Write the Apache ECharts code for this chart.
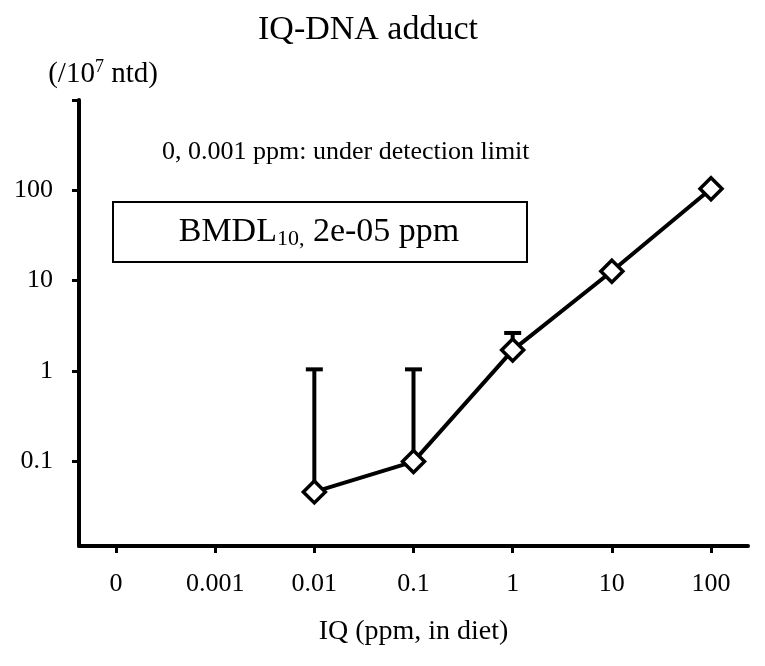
<!DOCTYPE html>
<html>
<head>
<meta charset="utf-8">
<script src="https://cdn.jsdelivr.net/npm/echarts@6/dist/echarts.min.js"></script>
<style>html,body{margin:0;padding:0;background:#fff;}#c{width:765px;height:666px;}</style>
</head>
<body>
<div id="c"></div>
<script>
var categories = ['0', '0.001', '0.01', '0.1', '1', '10', '100'];
var pointIndex = [2, 3, 4, 5, 6];
var adductMean = [0.0457, 0.099, 1.7, 12.7, 104];
var errorIndex = [2, 3, 4];
var errorUpper = [1.04, 1.04, 2.63];
var yTickLabels = [0.1, 1, 10, 100];
var yTickMarks = [0.1, 1, 10, 100, 1000];

var FONT = '"Liberation Serif", "Times New Roman", serif';
var lineData = pointIndex.map(function (x, i) { return [x, adductMean[i]]; });
var errData = errorIndex.map(function (x, i) {
  return [x, adductMean[pointIndex.indexOf(x)], errorUpper[i]];
});

var chart = echarts.init(document.getElementById('c'), null, { renderer: 'canvas' });
chart.setOption({
  backgroundColor: '#fff',
  animation: false,
  title: {
    text: 'IQ-DNA adduct',
    left: 363,
    textAlign: 'center',
    top: 8,
    textStyle: { fontFamily: FONT, fontSize: 34, fontWeight: 'normal', color: '#000' }
  },
  grid: { left: 79, right: 17, top: 100, bottom: 120, containLabel: false },
  xAxis: {
    type: 'value',
    min: -0.373,
    max: 6.373,
    name: 'IQ (ppm, in diet)',
    nameLocation: 'middle',
    nameGap: 72,
    nameTextStyle: { fontFamily: FONT, fontSize: 28, color: '#000' },
    splitLine: { show: false },
    axisLine: { show: true, onZero: false, lineStyle: { color: '#000', width: 4 } },
    axisTick: { show: true, length: 7, lineStyle: { color: '#000', width: 3 }, customValues: [0, 1, 2, 3, 4, 5, 6] },
    axisLabel: {
      customValues: [0, 1, 2, 3, 4, 5, 6],
      margin: 25,
      fontFamily: FONT, fontSize: 26, color: '#000',
      formatter: function (v) { var i = Math.round(v); return Math.abs(v - i) < 1e-6 ? categories[i] : ''; }
    }
  },
  yAxis: {
    type: 'log',
    logBase: 10,
    min: 0.0115,
    max: 1000,
    name: '{a|(/10}{s|7}{a| ntd)}',
    nameLocation: 'end',
    nameGap: 10,
    nameTextStyle: {
      align: 'center',
      padding: [0, 0, 0, 48],
      rich: {
        a: { fontFamily: FONT, fontSize: 29, color: '#000', lineHeight: 32 },
        s: { fontFamily: FONT, fontSize: 18, color: '#000', verticalAlign: 'top', lineHeight: 32, padding: [0, 0, 10, 0] }
      }
    },
    splitLine: { show: false },
    axisLine: { show: true, onZero: false, lineStyle: { color: '#000', width: 4 } },
    axisTick: { show: true, length: 7, lineStyle: { color: '#000', width: 3 }, customValues: yTickMarks },
    axisLabel: {
      customValues: yTickLabels,
      margin: 26,
      fontFamily: FONT, fontSize: 26, color: '#000',
      formatter: function (v) {
        for (var i = 0; i < yTickLabels.length; i++) {
          if (Math.abs(Math.log10(v) - Math.log10(yTickLabels[i])) < 1e-6) return String(yTickLabels[i]);
        }
        return '';
      }
    }
  },
  graphic: [
    {
      type: 'text',
      x: 162,
      y: 152,
      style: { text: '0, 0.001 ppm: under detection limit', fontFamily: FONT, fontSize: 26, fill: '#000', verticalAlign: 'middle' }
    },
    {
      type: 'rect',
      shape: { x: 113, y: 202, width: 414, height: 60 },
      style: { fill: '#fff', stroke: '#000', lineWidth: 2 }
    },
    {
      type: 'text',
      x: 319,
      y: 232,
      style: {
        text: '{a|BMDL}{s|10,}{a| 2e-05 ppm}',
        align: 'center',
        verticalAlign: 'middle',
        rich: {
          a: { fontFamily: FONT, fontSize: 34, fill: '#000', lineHeight: 40 },
          s: { fontFamily: FONT, fontSize: 22, fill: '#000', lineHeight: 40, padding: [14, 0, 0, 0] }
        }
      }
    }
  ],
  series: [
    {
      type: 'custom',
      z: 1,
      data: errData,
      renderItem: function (params, api) {
        var x = api.value(0);
        var p0 = api.coord([x, api.value(1)]);
        var p1 = api.coord([x, api.value(2)]);
        var hw = 8.5;
        return {
          type: 'group',
          children: [
            { type: 'line', shape: { x1: p0[0], y1: p0[1], x2: p1[0], y2: p1[1] }, style: { stroke: '#000', lineWidth: 4 } },
            { type: 'line', shape: { x1: p1[0] - hw, y1: p1[1], x2: p1[0] + hw, y2: p1[1] }, style: { stroke: '#000', lineWidth: 4 } }
          ]
        };
      }
    },
    {
      type: 'line',
      z: 3,
      data: lineData,
      symbol: 'diamond',
      symbolSize: 22,
      lineStyle: { color: '#000', width: 4 },
      itemStyle: { color: '#fff', borderColor: '#000', borderWidth: 3.5 }
    }
  ]
});
</script>
</body>
</html>
